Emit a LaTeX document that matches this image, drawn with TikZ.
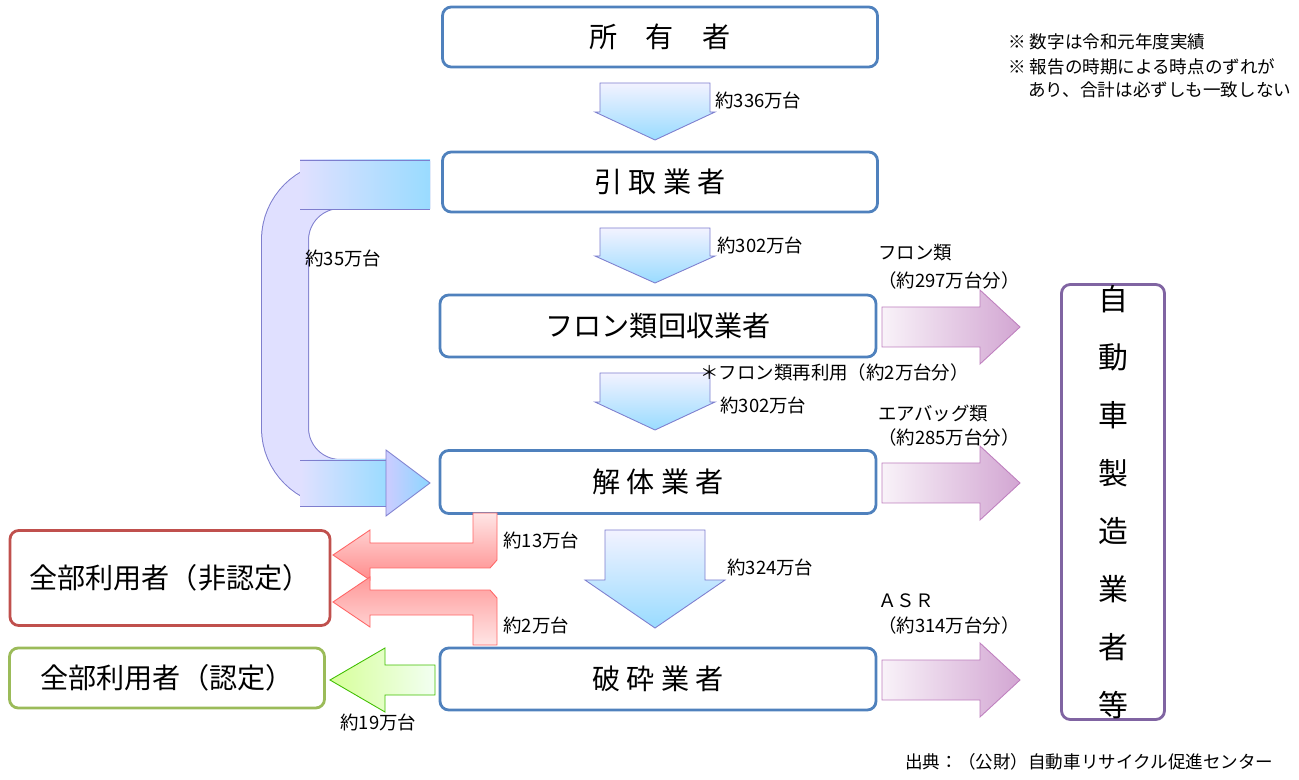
\documentclass[tikz,border=0pt]{standalone}
\usepackage{fontspec}
\setmainfont{Noto Sans CJK JP}
\begin{document}
\begin{tikzpicture}[x=0.02cm,y=-0.02cm,
 box/.style={draw=#1,line width=1.6pt,rounded corners=5pt,fill=white,inner sep=0pt},
 big/.style={font=\fontsize{16}{18}\selectfont},
 lab/.style={font=\fontsize{10.5}{12}\selectfont,anchor=west,inner sep=0pt},
 barrow/.style={draw=blue!45!gray!70,line width=0.5pt,top color=blue!5,bottom color=blue!35!cyan!40},
 parrow/.style={draw=violet!50,line width=0.5pt,left color=violet!5,right color=violet!35},
 rarrow/.style={draw=red!60,line width=0.5pt,top color=red!10,bottom color=red!45},
 garrow/.style={draw=green!50!olive,line width=0.5pt,left color=green!40!yellow!40,right color=green!5}]
\useasboundingbox (0,0) rectangle (1299,780);
\definecolor{bb}{RGB}{79,129,189}
\definecolor{rb}{RGB}{192,80,77}
\definecolor{gb}{RGB}{155,187,89}
\definecolor{pb}{RGB}{128,100,162}
% boxes
\node[box=bb,big,minimum width=435*0.02cm,minimum height=60*0.02cm] (a) at (660,37) {所　有　者};
\node[box=bb,big,minimum width=435*0.02cm,minimum height=60*0.02cm] (b) at (660,182) {引 取 業 者};
\node[box=bb,big,minimum width=436*0.02cm,minimum height=62*0.02cm] (c) at (658,326) {フロン類回収業者};
\node[box=bb,big,minimum width=436*0.02cm,minimum height=63*0.02cm] (d) at (658,482) {解 体 業 者};
\node[box=bb,big,minimum width=436*0.02cm,minimum height=62*0.02cm] (e) at (658,679) {破 砕 業 者};
\node[box=rb,big,minimum width=320*0.02cm,minimum height=95*0.02cm] (f) at (170,578) {全部利用者（非認定）};
\node[box=gb,big,minimum width=315*0.02cm,minimum height=60*0.02cm] (g) at (167,678) {全部利用者（認定）};
\node[box=pb,big,minimum width=103*0.02cm,minimum height=435*0.02cm,align=center,font=\fontsize{17}{33}\selectfont] (h) at (1113,502) {自\\動\\車\\製\\造\\業\\者\\等};
% down arrows
\foreach \t/\s/\bb/\l/\r/\hl/\hr in {83/112/140/600/710/595/715, 228/256/283/600/710/595/715, 373/402/430/600/710/595/715, 530/580/628/605/705/585/725}{
 \path[barrow] (\l,\t) -- (\r,\t) -- (\r,\s) -- (\hr,\s) -- (655,\bb) -- (\hl,\s) -- (\l,\s) -- cycle;}
% curved arrow
\draw[blue!45!gray!70,line width=48*0.02cm,rounded corners=55*0.02cm] (430,185) -- (285,185) -- (285,483) -- (388,483);
\draw[blue!12,line width=46*0.02cm,rounded corners=55*0.02cm] (430,185) -- (285,185) -- (285,483) -- (389,483);
\shade[left color=blue!12,right color=blue!35!cyan!40] (300,160) rectangle (430,209);
\shade[left color=blue!12,right color=blue!35!cyan!40] (300,460) rectangle (389,506);
\path[barrow,left color=blue!20,right color=blue!35!cyan!45] (386,450) -- (430,483) -- (386,516) -- cycle;
\draw[blue!45!gray!70,line width=0.5pt] (430,160) -- (300,160) (430,209)--(300,209) (386,460)--(300,460) (386,506)--(300,506);
% purple arrows
\foreach \c in {327,483,680}{
 \path[parrow] (882,\c-20) -- (980,\c-20) -- (980,\c-37) -- (1020,\c) -- (980,\c+37) -- (980,\c+20) -- (882,\c+20) -- cycle;}
% red arrows
\path[rarrow] (473,513) -- (497,513) -- (497,560) -- (490,568) -- (370,568) -- (370,580) -- (333,555) -- (370,530) -- (370,543) -- (473,543) -- cycle;
\path[rarrow,top color=red!40,bottom color=red!10] (473,645) -- (497,645) -- (497,598) -- (490,590) -- (370,590) -- (370,577) -- (333,602) -- (370,627) -- (370,615) -- (473,615) -- cycle;
% green arrow
\path[garrow] (435,665) -- (385,665) -- (385,648) -- (330,680) -- (385,712) -- (385,695) -- (435,695) -- cycle;
% labels
\node[lab] (l1) at (715,100) {約336万台};
\node[lab] (l2) at (717,245) {約302万台};
\node[lab] (l3) at (305,258) {約35万台};
\node[lab] (l4) at (878,253) {フロン類};
\node[lab] (l5) at (878,280) {（約297万台分）};
\node[lab] (l6) at (700,372) {＊フロン類再利用（約2万台分）};
\node[lab] (l7) at (720,405) {約302万台};
\node[lab] (l8) at (878,413) {エアバッグ類};
\node[lab] (l9) at (878,437) {（約285万台分）};
\node[lab] (l10) at (503,540) {約13万台};
\node[lab] (l11) at (727,567) {約324万台};
\node[lab] (l12) at (878,601) {ＡＳＲ};
\node[lab] (l13) at (878,625) {（約314万台分）};
\node[lab] (l14) at (503,625) {約2万台};
\node[lab] (l15) at (340,722) {約19万台};
\node[lab,font=\fontsize{10}{12}\selectfont] (n1) at (1008,42) {※ 数字は令和元年度実績};
\node[lab,font=\fontsize{10}{12}\selectfont] (n2) at (1008,67) {※ 報告の時期による時点のずれが};
\node[lab,font=\fontsize{10}{12}\selectfont] (n3) at (1028,90) {あり、合計は必ずしも一致しない};
\node[lab,font=\fontsize{10}{12}\selectfont] (n4) at (905,762) {出典：（公財）自動車リサイクル促進センター};
\end{tikzpicture}
\end{document}
